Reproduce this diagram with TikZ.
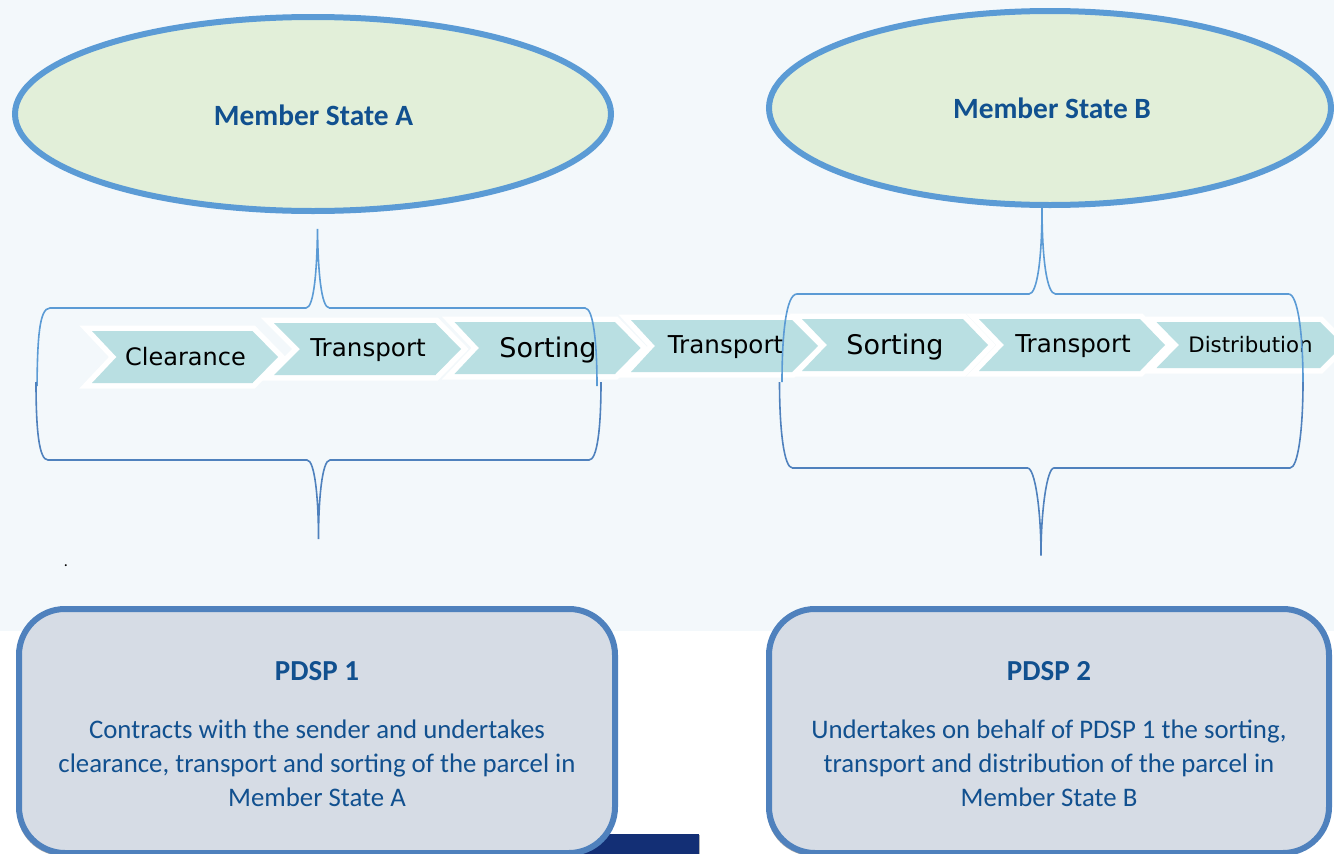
\documentclass[tikz,border=0pt]{standalone}
\usepackage{fontspec}
\setmainfont{Carlito}
\newfontfamily\chevfont{DejaVu Sans}
\usetikzlibrary{shapes.geometric,shadows}
\definecolor{pagebg}{HTML}{F3F8FB}
\definecolor{ellfill}{HTML}{E2EFD9}
\definecolor{ellline}{HTML}{5B9BD5}
\definecolor{boxfill}{HTML}{D6DCE5}
\definecolor{boxline}{HTML}{4F81BD}
\definecolor{titleblue}{HTML}{11508F}
\definecolor{chevfill}{HTML}{B9DFE2}
\definecolor{navy}{HTML}{132F75}
\tikzset{
  statenode/.style={ellipse,draw=ellline,line width=6pt,fill=ellfill,inner sep=0pt},
  statelabel/.style={text=titleblue,font=\fontsize{29.4}{32}\selectfont\bfseries,inner sep=0pt},
  bigbox/.style={draw=boxline,line width=6pt,fill=boxfill,rounded corners=46pt,drop shadow={shadow xshift=-2pt,shadow yshift=-3pt,opacity=.35,fill=black}},
  boxtext/.style={align=center,text=titleblue,font=\fontsize{26.8}{34}\selectfont,inner sep=0pt},
  boxtitle/.style={text=titleblue,font=\fontsize{29}{32}\selectfont\bfseries,inner sep=0pt},
  chevedge/.style={draw=white,line width=11pt,miter limit=10},
  chevshape/.style={fill=chevfill},
  chevtext/.style={text=black,inner sep=0pt},
  bracetop/.style={draw=ellline,line width=1.6pt},
  bracebot/.style={draw=boxline,line width=1.6pt}
}
% #1 left #2 notch #3 shoulder #4 tip #5 top #6 bottom
\newcommand{\chevpath}[6]{%
  \path[chevedge] (#1,#5) -- (#3,#5) -- (#4,{(#5+#6)/2}) -- (#3,#6) -- (#1,#6) -- (#2,{(#5+#6)/2}) -- cycle;
  \path[chevshape] (#1,#5) -- (#3,#5) -- (#4,{(#5+#6)/2}) -- (#3,#6) -- (#1,#6) -- (#2,{(#5+#6)/2}) -- cycle;}
\begin{document}
\begin{tikzpicture}[x=1pt,y=-1pt]
\useasboundingbox (0,0) rectangle (1334,854);
\clip (0,0) rectangle (1334,854);
\fill[white] (0,0) rectangle (1334,854);
\fill[pagebg] (0,0) rectangle (1334,631);

% ellipses
\node[statenode,minimum width=596pt,minimum height=194pt] (stateA) at (313,114) {};
\node[statenode,minimum width=562pt,minimum height=194pt] (stateB) at (1050,108) {};
\node[statelabel] (labelA) at (313.5,115) {Member State A};
\node[statelabel] (labelB) at (1052,108) {Member State B};

% chevrons
\chevpath{92}{116.5}{252.5}{278}{331}{383}
\chevpath{274}{300}{435.5}{461}{323}{375}
\chevpath{454.5}{479}{615}{640.5}{322}{374}
\chevpath{631}{655}{792}{818}{320}{372}
\chevpath{802}{827}{963}{988}{319}{371}
\chevpath{979}{1004}{1140}{1165}{319}{371}
\chevpath{1156.5}{1179}{1320}{1343}{322}{368}
\node[chevtext,font=\chevfont\fontsize{24}{26}\selectfont] (t1) at (185.5,357) {Clearance};
\node[chevtext,font=\chevfont\fontsize{24.6}{26}\selectfont] (t2) at (368,350) {Transport};
\node[chevtext,font=\chevfont\fontsize{27}{30}\selectfont] (t3) at (548,350) {Sorting};
\node[chevtext,font=\chevfont\fontsize{24.6}{26}\selectfont] (t4) at (725.5,347) {Transport};
\node[chevtext,font=\chevfont\fontsize{27}{30}\selectfont] (t5) at (895,347) {Sorting};
\node[chevtext,font=\chevfont\fontsize{24.6}{26}\selectfont] (t6) at (1073,346.5) {Transport};
\node[chevtext,font=\chevfont\fontsize{21.3}{26}\selectfont] (t7) at (1250.5,345) {Distribution};

% braces
\draw[bracetop] (37,386) .. controls (37.5,340) and (39,308) .. (50,308) -- (306,308)
  .. controls (314,308) and (317,270) .. (317.5,229)
  .. controls (318,270) and (321,308) .. (329.5,308) -- (585,308)
  .. controls (593,308) and (597,340) .. (597,386);
\draw[bracebot] (36,382) .. controls (36,430) and (39,460) .. (48,460) -- (307,460)
  .. controls (315,460) and (318.5,500) .. (318.5,539)
  .. controls (318.5,500) and (322,460) .. (330,460) -- (589,460)
  .. controls (597,460) and (601,430) .. (601,382);
\draw[bracetop] (782,382) .. controls (782,335) and (786,294) .. (797,294) -- (1029,294)
  .. controls (1037,294) and (1042,260) .. (1042,207)
  .. controls (1042,260) and (1047,294) .. (1055.5,294) -- (1288.5,294)
  .. controls (1298,294) and (1303,335) .. (1303,382);
\draw[bracebot] (779.5,382) .. controls (779.5,430) and (784,468) .. (792.5,468) -- (1027.5,468)
  .. controls (1035,468) and (1041,510) .. (1041,555.5)
  .. controls (1041,510) and (1047,468) .. (1054,468) -- (1290,468)
  .. controls (1298,468) and (1303,430) .. (1303,382);

\node[font=\fontsize{16}{16}\selectfont,text=black,inner sep=0pt] (dot) at (66,566) {.};

% navy bar and boxes
\fill[navy,drop shadow={shadow xshift=1pt,shadow yshift=-1pt,opacity=.3,fill=black}] (560,834) rectangle (699,860);
\node[bigbox,minimum width=596pt,minimum height=244pt,inner sep=0pt] (boxA) at (317,731) {};
\node[bigbox,minimum width=560pt,minimum height=244pt,inner sep=0pt] (boxB) at (1049,731) {};
\node[boxtitle] (titleA) at (317,671) {PDSP 1};
\node[boxtitle] (titleB) at (1049,671) {PDSP 2};
\node[boxtext] (textA) at (317,763) {Contracts with the sender and undertakes\\clearance, transport and sorting of the parcel in\\Member State A};
\node[boxtext] (textB) at (1049,763) {Undertakes on behalf of PDSP 1 the sorting,\\transport and distribution of the parcel in\\Member State B};
\end{tikzpicture}
\end{document}
